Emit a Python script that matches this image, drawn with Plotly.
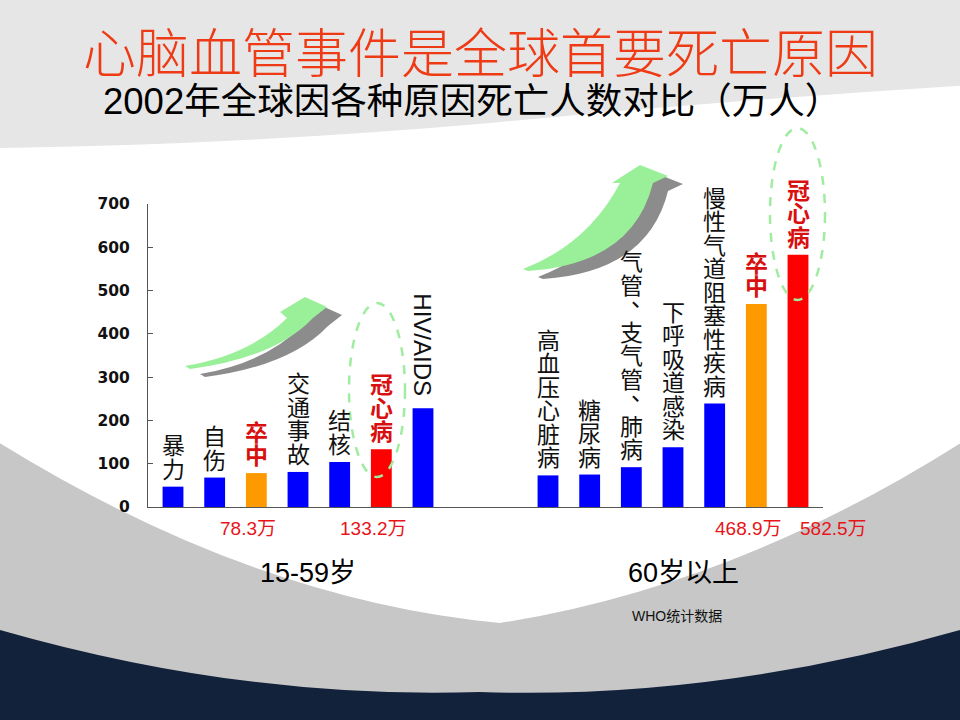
import plotly.graph_objects as go

# 2002年全球死亡原因（万人），WHO统计数据
cats_young = ["暴力", "自伤", "卒中", "交通事故", "结核", "冠心病", "HIV/AIDS"]
vals_young = [47, 68, 78.3, 81, 104, 133.2, 228]
cats_old = ["高血压心脏病", "糖尿病", "气管、支气管、肺病", "下呼吸道感染",
            "慢性气道阻塞性疾病", "卒中", "冠心病"]
vals_old = [73, 75, 92, 138, 239, 468.9, 582.5]
group_names = ["15-59岁", "60岁以上"]
highlight = {"卒中": "#ff9900", "冠心病": "#ff0000"}
y_ticks = [0, 100, 200, 300, 400, 500, 600, 700]

W, H = 960, 720
L, R, T, B = 148, 137, 204, 213


def px(x):
    return (x - L) / (W - L - R)


def py(y):
    return (H - B - y) / (H - T - B)


def path(points):
    # points: list of (cmd, [(x,y),...]) in pixels -> paper path
    # plotly only reads one point set per command letter, so repeat the letter
    s = ""
    for cmd, pts in points:
        step = 2 if cmd == "Q" else 1
        for i in range(0, len(pts), step):
            s += cmd + " " + " ".join("%.4f,%.4f" % (px(a), py(b)) for a, b in pts[i:i + step]) + " "
    return s + "Z"


def bg(d, color):
    return dict(type="path", xref="paper", yref="paper", layer="below", line=dict(width=0),
                fillcolor=color, path=path(d))


pos_young = list(range(len(cats_young)))
pos_old = [i + len(cats_young) + 2 for i in range(len(cats_old))]
xs = pos_young + pos_old
ys = vals_young + vals_old
names = cats_young + cats_old
colors = [highlight.get(n, "#0000ff") for n in names]

fig = go.Figure(go.Bar(x=xs, y=ys, width=0.5, marker=dict(color=colors, line=dict(width=0)),
                       hoverinfo="skip"))

shapes = [
    # light grey band at the top with a wavy lower edge
    bg([("M", [(-10, -10)]), ("L", [(970, -10), (970, 85)]), ("Q", [(730, 100), (490, 123)]),
        ("Q", [(240, 145), (-10, 148)])], "#e6e6e6"),
    # grey bowl at the bottom
    bg([("M", [(-10, 437)]), ("Q", [(250, 600), (500, 623)]), ("Q", [(740, 585), (970, 437)]),
        ("L", [(970, 730), (-10, 730)])], "#c7c7c7"),
    # dark navy footer
    bg([("M", [(-10, 627)]), ("Q", [(240, 700), (480, 692)]), ("Q", [(720, 700), (970, 627)]),
        ("L", [(970, 730), (-10, 730)])], "#13223b"),
]


def arrow(tx, ty, rel, color):
    pts = [(c, [(tx + a, ty + b) for a, b in p]) for c, p in rel]
    return dict(type="path", xref="paper", yref="paper", layer="above", line=dict(width=0),
                fillcolor=color, path=path(pts))


arrow_left = [("M", [(0, 0)]), ("Q", [(65, -11), (102, -48)]),
              ("L", [(95, -54), (120, -69), (142, -59), (128, -48)]),
              ("Q", [(90, -8), (5, 3)])]
arrow_right = [("M", [(0, 0)]), ("Q", [(65, -25), (97, -86)]),
               ("L", [(89, -86), (117, -104), (145, -93), (130, -86)]),
               ("Q", [(110, -5), (5, 2)])]
for tx, ty, rel in [(185, 366, arrow_left), (523, 269, arrow_right)]:
    shapes.append(arrow(tx + 15, ty + 8, rel, "#8c8c8c"))
    shapes.append(arrow(tx, ty, rel, "#99f099"))

# dashed ellipses around 冠心病
for x0, x1, y0, y1 in [(349, 405, 303, 477), (770, 825, 128, 300)]:
    shapes.append(dict(type="circle", xref="paper", yref="paper", layer="above",
                       x0=px(x0), x1=px(x1), y0=py(y1), y1=py(y0),
                       line=dict(color="#a0eca0", width=2.5, dash="dash")))

ann = []
cjk = "Noto Sans CJK SC"
for x, v, n in zip(xs, ys, names):
    if n.isascii():
        ann.append(dict(x=x, y=v, xref="x", yref="y", text=n, textangle=90, showarrow=False,
                        xanchor="center", yanchor="middle", yshift=64,
                        font=dict(family="Liberation Sans", size=24, color="#111111")))
        continue
    red = n in highlight
    for k, ch in enumerate(reversed(n)):
        dx, dy = (11, 11) if ch == "、" else (0, 0)
        ann.append(dict(x=x, y=v, xref="x", yref="y", text=ch, showarrow=False,
                        xanchor="center", yanchor="middle", yshift=19 + k * 23.5 + dy, xshift=dx,
                        font=dict(family=cjk, size=23, color="#d81010" if red else "#111111",
                                  weight="bold" if red else "normal")))
    if red:
        shift = 35 if x == max(xs) else -8
        ann.append(dict(x=x, y=0, xref="x", yref="y", text="%s万" % v, showarrow=False,
                        xanchor="center", yanchor="middle", yshift=-21, xshift=shift,
                        font=dict(family="Liberation Sans, " + cjk, size=19, color="#e8141a")))

for name, grp in zip(group_names, [pos_young, pos_old]):
    ann.append(dict(x=sum(grp) / len(grp), y=py(573), xref="x", yref="paper", text=name,
                    showarrow=False, xanchor="center", yanchor="middle", xshift=10,
                    font=dict(family="Liberation Sans, " + cjk, size=27, color="#000000")))

ann.append(dict(x=px(677), y=py(616), xref="paper", yref="paper", text="WHO统计数据", showarrow=False,
                xanchor="center", yanchor="middle",
                font=dict(family="Liberation Sans, " + cjk, size=14, color="#111111")))
ann.append(dict(x=px(480), y=py(50), xref="paper", yref="paper", text="心脑血管事件是全球首要死亡原因",
                showarrow=False, xanchor="center", yanchor="middle",
                font=dict(family=cjk, size=53, color="#ee3b16", weight=300)))
ann.append(dict(x=px(472), y=py(101), xref="paper", yref="paper",
                text="2002年全球因各种原因死亡人数对比（万人）",
                showarrow=False, xanchor="center", yanchor="middle",
                font=dict(family="Liberation Sans, " + cjk, size=36.5, color="#000000")))

fig.update_layout(
    width=W, height=H, autosize=False,
    margin=dict(l=L, r=R, t=T, b=B, pad=0),
    paper_bgcolor="white", plot_bgcolor="rgba(0,0,0,0)",
    showlegend=False, shapes=shapes, annotations=ann,
    xaxis=dict(range=[-0.6, 15.6], showline=True, linecolor="#555555", linewidth=1,
               showticklabels=False, ticks="", showgrid=False, zeroline=False, fixedrange=True),
    yaxis=dict(range=[0, 700], tickvals=y_ticks, showline=True, linecolor="#555555", linewidth=1,
               ticks="inside", ticklen=5, tickcolor="#555555", showgrid=False, zeroline=False,
               ticklabelstandoff=14, fixedrange=True,
               tickfont=dict(family="DejaVu Sans", size=15.5, color="#111111", weight="bold")),
)

# drop the default page margin so the 960x720 figure fills the window exactly
fig.write_html("out.html", config={"displayModeBar": False},
               post_script="document.body.style.margin='0';document.body.style.overflow='hidden';")
